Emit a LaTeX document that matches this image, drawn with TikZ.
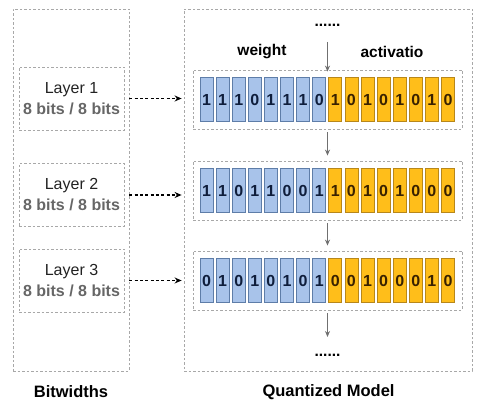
\documentclass[tikz,border=0pt]{standalone}
\usepackage{fontspec}
\setmainfont{Liberation Sans}
\usetikzlibrary{arrows.meta}
\definecolor{dashgray}{HTML}{A8A8A8}
\definecolor{bluefill}{HTML}{A8C3EA}
\definecolor{bluedraw}{HTML}{5E7DA8}
\definecolor{bluetext}{HTML}{0F1E3C}
\definecolor{orgfill}{HTML}{FFBE1A}
\definecolor{orgdraw}{HTML}{B8871A}
\definecolor{orgtext}{HTML}{3A2200}
\definecolor{arrowgray}{HTML}{707070}
\definecolor{subgray}{HTML}{666666}
\definecolor{laytext}{HTML}{222222}
\tikzset{
  dbox/.style={draw=dashgray, dash pattern=on 2.5pt off 2pt, line width=0.8pt, inner sep=0pt},
  wcell/.style={draw=bluedraw, fill=bluefill, line width=0.7pt, minimum width=13pt, minimum height=44pt, inner sep=0pt, text=bluetext, font=\fontsize{16}{18}\selectfont\bfseries},
  acell/.style={draw=orgdraw, fill=orgfill, line width=0.7pt, minimum width=13pt, minimum height=44pt, inner sep=0pt, text=orgtext, font=\fontsize{16}{18}\selectfont\bfseries},
  flow/.style={draw=arrowgray, line width=1.2pt, -{Stealth[length=6pt,width=5pt]}},
  link/.style={draw=black, line width=1.4pt, dash pattern=on 3pt off 2.3pt, -{Stealth[length=7pt,width=6pt]}},
  lbl/.style={font=\fontsize{15.5}{18}\selectfont\bfseries},
}
\newcommand{\bitrow}[2]{%
  \foreach \b [count=\k] in {#2} {
    \pgfmathsetmacro{\cx}{206.5+(\k-1)*16.1}
    \ifnum\k<9
      \node[wcell] (r#1c\k) at (\cx, 0 |- row#1.center) {\b};
    \else
      \node[acell] (r#1c\k) at (\cx, 0 |- row#1.center) {\b};
    \fi
  }%
}
\begin{document}
\begin{tikzpicture}[x=1pt,y=-1pt]
\useasboundingbox (0,0) rectangle (483,414);
% outer boxes
\node[dbox, minimum width=116pt, minimum height=362pt] (left) at (71,190) {};
\node[dbox, minimum width=288pt, minimum height=362pt] (right) at (328,190) {};
% layer boxes
\foreach \i/\y in {1/98.5, 2/195, 3/280.5}{
  \node[dbox, minimum width=105pt, minimum height=63pt, align=center, font=\fontsize{16}{21}\selectfont] (layer\i) at (71.5,\y)
    {\color{laytext}Layer \i\\\bfseries\color{subgray}8 bits / 8 bits};
}
% row containers
\foreach \i/\y in {1/99.5, 2/190.5, 3/280.5}{
  \node[dbox, minimum width=269pt, minimum height=59pt] (row\i) at (327.5,\y) {};
}
% cells
\bitrow{1}{1,1,1,0,1,1,1,0,1,0,1,0,1,0,1,0}
\bitrow{2}{1,1,0,1,1,0,0,1,1,0,1,0,1,0,0,0}
\bitrow{3}{0,1,0,1,0,1,0,1,0,0,1,0,0,0,1,0}
% labels
\node[lbl] (weight) at (262,52) {weight};
\node[lbl] (act) at (392,52) {activatio};
\node[lbl, inner sep=0pt] (topdots) at (327.5,25) {......};
\node[lbl, inner sep=0pt] (botdots) at (327.5,355) {......};
\node[font=\fontsize{16.5}{18}\selectfont\bfseries] (bitw) at (71,392) {Bitwidths};
\node[font=\fontsize{16.5}{18}\selectfont\bfseries, anchor=west] (qm) at (259,392) {Quantized Model};
% vertical flow arrows
\draw[flow] (327.5,42) -- ([yshift=-2pt]row1.north);
\draw[flow] ([yshift=-3pt]row1.south) -- ([yshift=5pt]row2.north);
\draw[flow] ([yshift=-3pt]row2.south) -- ([yshift=5pt]row3.north);
\draw[flow] ([yshift=-3pt]row3.south) -- (327.5,337);
% dashed links
\foreach \i in {1,2,3}{
  \draw[link] ([xshift=5pt]layer\i.east) -- ([xshift=-2pt]layer\i.east -| right.west);
}
\end{tikzpicture}
\end{document}
